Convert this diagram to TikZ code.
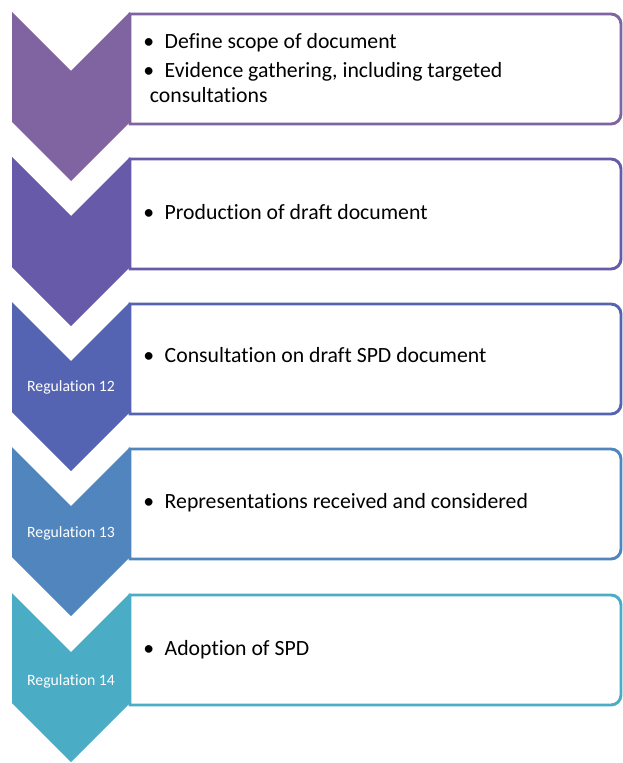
\documentclass[tikz,border=0pt]{standalone}
\usepackage{fontspec}
\setmainfont{Carlito}[RawFeature={-liga;-clig;-calt;-dlig}]
\usepackage{tikz}

\definecolor{stepone}{HTML}{8064A2}
\definecolor{steptwo}{HTML}{675AA8}
\definecolor{stepthree}{HTML}{5564B2}
\definecolor{stepfour}{HTML}{5085BE}
\definecolor{stepfive}{HTML}{4BACC6}

\begin{document}
\begin{tikzpicture}[x=0.75pt,y=0.75pt,yscale=-1,xscale=1,
  chev/.style={fill=#1, draw=none},
  stepbox/.style={draw=#1, line width=2.2pt, fill=white},
  item/.style={anchor=west, align=left, inner sep=0pt, font=\fontsize{16.3}{18.5}\selectfont},
  reg/.style={text=white, inner sep=0pt, font=\fontsize{11.8}{14}\selectfont}]
%set diagram size to 622 x 763
\useasboundingbox (0,0) rectangle (622,763);

%Shape: Chevron 1
\draw [chev=stepone] (12,12) -- (71,71) -- (130,12) -- (130,122) -- (71,181) -- (12,122) -- cycle ;
%Shape: Box 1
\draw [stepbox=stepone] (130,14) -- (611,14) .. controls (616.5,14) and (621,18.5) .. (621,24) -- (621,114) .. controls (621,119.5) and (616.5,124) .. (611,124) -- (130,124) -- cycle ;

%Shape: Chevron 2
\draw [chev=steptwo] (12,157) -- (71,216) -- (130,157) -- (130,267) -- (71,326) -- (12,267) -- cycle ;
%Shape: Box 2
\draw [stepbox=steptwo] (130,159) -- (611,159) .. controls (616.5,159) and (621,163.5) .. (621,169) -- (621,259) .. controls (621,264.5) and (616.5,269) .. (611,269) -- (130,269) -- cycle ;

%Shape: Chevron 3
\draw [chev=stepthree] (12,302) -- (71,361) -- (130,302) -- (130,412) -- (71,471) -- (12,412) -- cycle ;
%Shape: Box 3
\draw [stepbox=stepthree] (130,304) -- (611,304) .. controls (616.5,304) and (621,308.5) .. (621,314) -- (621,404) .. controls (621,409.5) and (616.5,414) .. (611,414) -- (130,414) -- cycle ;

%Shape: Chevron 4
\draw [chev=stepfour] (12,447) -- (71,506) -- (130,447) -- (130,557) -- (71,616) -- (12,557) -- cycle ;
%Shape: Box 4
\draw [stepbox=stepfour] (130,449) -- (611,449) .. controls (616.5,449) and (621,453.5) .. (621,459) -- (621,549) .. controls (621,554.5) and (616.5,559) .. (611,559) -- (130,559) -- cycle ;

%Shape: Chevron 5
\draw [chev=stepfive] (12,593) -- (71,652) -- (130,593) -- (130,703) -- (71,762) -- (12,703) -- cycle ;
%Shape: Box 5
\draw [stepbox=stepfive] (130,595) -- (611,595) .. controls (616.5,595) and (621,599.5) .. (621,605) -- (621,695) .. controls (621,700.5) and (616.5,705) .. (611,705) -- (130,705) -- cycle ;

% Text Node
\node [item] (scope) at (143,68) {\textbullet\hspace{8pt}Define scope of document\\[3pt]
  \textbullet\hspace{8pt}Evidence gathering, including targeted\\
  \hspace{5pt}consultations};
% Text Node
\node [item] (draft) at (143,212) {\textbullet\hspace{8pt}Production of draft document};
% Text Node
\node [item] (consult) at (143,355) {\textbullet\hspace{8pt}Consultation on draft SPD document};
% Text Node
\node [item] (reps) at (143,503) {\textbullet\hspace{8pt}Representations received and considered};
% Text Node
\node [item] (adopt) at (143,650) {\textbullet\hspace{8pt}Adoption of SPD};

% Regulation labels
\node [reg] (regtwelve) at (71,387) {Regulation 12};
\node [reg] (regthirteen) at (71,533) {Regulation 13};
\node [reg] (regfourteen) at (71,681) {Regulation 14};

\end{tikzpicture}
\end{document}
